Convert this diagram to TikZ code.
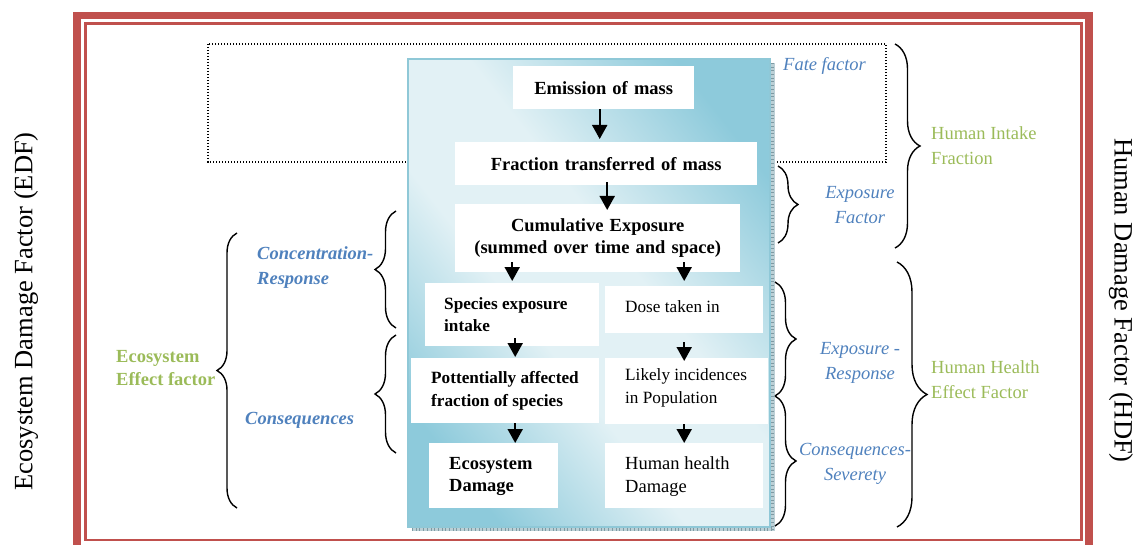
\documentclass[tikz,border=0pt]{standalone}
\usepackage{fontspec}
\setmainfont{Liberation Serif}
\usetikzlibrary{arrows.meta,decorations.pathreplacing}
\definecolor{framered}{HTML}{C0504D}
\definecolor{labblue}{HTML}{4F81BD}
\definecolor{labgreen}{HTML}{9BBB59}
\definecolor{paneldark}{HTML}{8DCADB}
\definecolor{panellight}{HTML}{E2F1F5}
\definecolor{paneledge}{HTML}{8FC8D7}
\definecolor{shadowfill}{HTML}{BCD0D6}
\definecolor{shadowtick}{HTML}{7E9AA3}
% broad light band between two darker corners
\pgfdeclareverticalshading{panelshade}{100bp}{%
  color(0bp)=(paneldark); color(24bp)=(paneldark); color(42bp)=(panellight);
  color(56bp)=(panellight); color(76bp)=(paneldark); color(100bp)=(paneldark)}
\begin{document}
\begin{tikzpicture}[x=1pt, y=-1pt,
  wbox/.style={fill=white, draw=none, inner sep=0pt, anchor=north west},
  btext/.style={anchor=west, inner sep=0pt, align=left},
  fbig/.style={font=\fontsize{18.5}{22.5}\selectfont},
  fbigb/.style={font=\fontsize{18.5}{22.5}\selectfont\bfseries},
  fsmall/.style={font=\fontsize{17.2}{22.5}\selectfont},
  fsmallb/.style={font=\fontsize{17.2}{22.5}\selectfont\bfseries},
  arr/.style={draw=black, line width=2pt, -{Triangle[width=15pt,length=14pt]}},
  curly/.style={draw=black, line width=1.4pt, decorate, decoration={brace, amplitude=#1}},
  curly/.default=20pt,
  bluelab/.style={text=labblue, font=\fontsize{18.5}{25}\selectfont\itshape, inner sep=0pt, align=center},
  bluebold/.style={text=labblue, font=\fontsize{18.5}{25}\selectfont\bfseries\itshape, inner sep=0pt, align=left, anchor=west},
  greenlab/.style={text=labgreen, font=\fontsize{18.5}{25}\selectfont, inner sep=0pt, align=left, anchor=west},
  greenbold/.style={text=labgreen, font=\fontsize{18.5}{23}\selectfont\bfseries, inner sep=0pt, align=left, anchor=west},
  sidelab/.style={font=\fontsize{26.5}{30}\selectfont, inner sep=0pt}
]
\path[use as bounding box, clip] (0,0) rectangle (1134,545);

% double red frame
\draw[framered, line width=7.5pt] (77,15.7) rectangle (1089,560);
\draw[framered, line width=2.6pt] (85.3,23.5) rectangle (1081.5,540);

% dotted outline of the fate-factor region
\draw[line width=1.4pt, dash pattern=on 1.4pt off 1.6pt] (208,44) rectangle (886,162);

% shaded panel with its hatched shadow
\fill[shadowfill] (770.5,63) rectangle (774.5,531);
\fill[shadowfill] (412,527) rectangle (774.5,531);
\draw[shadowtick, line width=3.5pt, dash pattern=on 0.7pt off 3pt] (772.5,63) -- (772.5,531);
\draw[shadowtick, line width=3.5pt, dash pattern=on 0.7pt off 3pt] (412,529) -- (774.5,529);
\shade[shading=panelshade, shading angle=-52] (408,59) rectangle (770,527);
\draw[paneledge, line width=1.5pt] (408,59) rectangle (770,527);

% central chain
\node[wbox, fbigb, minimum width=181pt, minimum height=43pt, text width=181pt, align=center]
  (emission) at (513,66) {Emission of mass};
\node[wbox, fbigb, minimum width=302pt, minimum height=43pt, text width=302pt, align=center]
  (fraction) at (455,142) {Fraction transferred of mass};
\node[wbox, fbigb, minimum width=285pt, minimum height=68pt, text width=285pt, align=center]
  (cumul) at (455,204) {Cumulative Exposure\\(summed over time and space)};

% ecosystem column
\node[wbox, minimum width=174pt, minimum height=63pt] (species) at (425,283) {};
\node[btext, fsmallb] (speciesT) at ([xshift=19pt]species.west) {Species exposure\\intake};
\node[wbox, minimum width=188pt, minimum height=65pt] (potent) at (411,358) {};
\node[btext, fsmallb] (potentT) at ([xshift=20pt]potent.west) {Pottentially affected\\fraction of species};
\node[wbox, minimum width=129pt, minimum height=65pt] (ecodam) at (429,443) {};
\node[btext, fbigb] (ecodamT) at ([xshift=20pt,yshift=-1pt]ecodam.west) {Ecosystem\\Damage};

% human column
\node[wbox, minimum width=158pt, minimum height=47pt] (dose) at (605,286) {};
\node[btext, fsmall] (doseT) at ([xshift=20pt,yshift=3pt]dose.west) {Dose taken in};
\node[wbox, minimum width=163pt, minimum height=66pt] (likely) at (605,358) {};
\node[btext, fsmall] (likelyT) at ([xshift=20pt,yshift=3.5pt]likely.west) {Likely incidences\\in Population};
\node[wbox, minimum width=158pt, minimum height=65pt] (human) at (605,443) {};
\node[btext, fbig] (humanT) at ([xshift=20pt,yshift=-1pt]human.west) {Human health\\Damage};

% arrows
\draw[arr] ([xshift=-4pt]emission.south) -- ([xshift=-4pt,yshift=3pt]emission.south |- fraction.north);
\draw[arr] ([xshift=1pt,yshift=3pt]fraction.south) -- ([xshift=1pt,yshift=-6pt]fraction.south |- cumul.north);
\draw[arr] ([yshift=10pt]cumul.south -| species.north) -- ([yshift=2pt]species.north);
\draw[arr] ([yshift=10pt]cumul.south -| dose.north) -- ([yshift=5pt]dose.north);
\draw[arr] ([xshift=3pt,yshift=8pt]species.south) -- ([xshift=3pt,yshift=1pt]species.south |- potent.north);
\draw[arr] ([yshift=-9pt]dose.south) -- ([yshift=-3pt]dose.south |- likely.north);
\draw[arr] ([xshift=3pt]species.south |- potent.south) -- ([xshift=3pt]species.south |- ecodam.north);
\draw[arr] (dose.south |- likely.south) -- (dose.south |- human.north);

% right-hand braces and labels
\coordinate (ef1) at (778,166);  \coordinate (ef2) at (778,243);
\coordinate (hi1) at (895,44);   \coordinate (hi2) at (895,248);
\coordinate (er1) at (775,282);  \coordinate (er2) at (775,396);
\coordinate (cs1) at (775,396);  \coordinate (cs2) at (775,526);
\coordinate (hh1) at (897,262);  \coordinate (hh2) at (897,527);
\draw[curly=20pt] (ef1) -- (ef2);
\draw[curly=25pt] (hi1) -- (hi2);
\draw[curly=21pt] (er1) -- (er2);
\draw[curly=21pt] (cs1) -- (cs2);
\draw[curly=30pt] (hh1) -- (hh2);

\node[bluelab, anchor=west] (fate) at (783,66) {Fate factor};
\node[bluelab] (expfac) at (860,205.5) {Exposure\\Factor};
\node[bluelab] (expresp) at (860,362.5) {Exposure -\\Response};
\node[bluelab] (conssev) at (855,463.5) {Consequences-\\Severety};
\node[greenlab] (hif) at (931,145.5) {Human Intake\\Fraction};
\node[greenlab] (hhef) at (931,379.5) {Human Health\\Effect Factor};

% left-hand braces and labels
\coordinate (ee1) at (237,508);  \coordinate (ee2) at (237,233);
\coordinate (cr1) at (396,328);  \coordinate (cr2) at (396,211);
\coordinate (cq1) at (396,453);  \coordinate (cq2) at (396,335);
\draw[curly=20pt] (ee1) -- (ee2);
\draw[curly=21pt] (cr1) -- (cr2);
\draw[curly=21pt] (cq1) -- (cq2);

\node[greenbold] (eef) at (116,368.5) {Ecosystem\\Effect factor};
\node[bluebold] (concresp) at (257,267.5) {Concentration-\\Response};
\node[bluebold] (conseq) at (245,420) {Consequences};

% vertical side titles
\node[sidelab, rotate=90] (edf) at (26,311.5) {Ecosystem Damage Factor (EDF)};
\node[sidelab, rotate=-90] (hdf) at (1121,300.5) {Human Damage Factor (HDF)};
\end{tikzpicture}
\end{document}
